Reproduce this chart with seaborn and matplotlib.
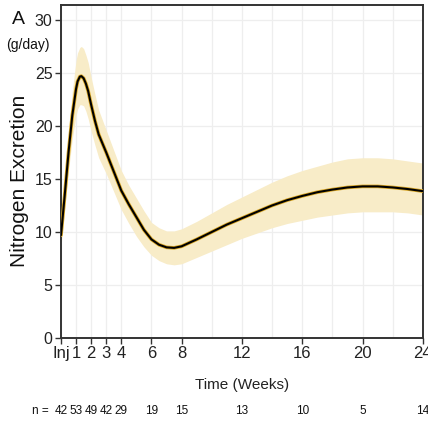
import matplotlib
matplotlib.use("Agg")
import matplotlib.pyplot as plt
import seaborn as sns
import pandas as pd

# ---- data ----
weeks = [0, 0.25, 0.5, 0.75, 1.0, 1.1, 1.25, 1.35, 1.5, 1.65, 1.8, 2.0, 2.25, 2.5, 3.0, 3.5,
         4.0, 4.5, 5.0, 5.5, 6.0, 6.5, 7.0, 7.5, 8.0, 9, 10, 11, 12, 13, 14, 15, 16, 17,
         18, 19, 20, 21, 22, 23, 24]
excretion = [9.7, 13.5, 17.5, 21.0, 23.5, 24.2, 24.65, 24.7, 24.5, 24.0, 23.3, 22.0, 20.5,
             19.2, 17.5, 15.7, 13.9, 12.6, 11.4, 10.2, 9.3, 8.8, 8.55, 8.5, 8.65, 9.3,
             10.0, 10.7, 11.3, 11.9, 12.5, 13.0, 13.4, 13.75, 14.0, 14.2, 14.3, 14.3,
             14.2, 14.05, 13.85]
lower = [8.6, 12.3, 15.8, 18.8, 21.0, 21.6, 22.0, 22.0, 21.9, 21.4, 20.7, 19.5, 18.2,
         17.0, 15.5, 13.8, 12.1, 10.8, 9.6, 8.6, 7.8, 7.3, 7.0, 6.9, 7.0, 7.6, 8.2, 8.8,
         9.4, 9.9, 10.4, 10.8, 11.1, 11.4, 11.6, 11.8, 11.9, 11.9, 11.9, 11.8, 11.6]
upper = [10.6, 14.8, 19.3, 23.3, 26.2, 26.9, 27.4, 27.5, 27.3, 26.7, 26.0, 24.6, 23.0,
         21.5, 19.6, 17.7, 15.8, 14.4, 13.2, 12.0, 10.9, 10.4, 10.1, 10.1, 10.3, 11.0,
         11.8, 12.6, 13.3, 14.0, 14.7, 15.3, 15.8, 16.2, 16.6, 16.9, 17.0, 17.0, 16.9,
         16.7, 16.5]

tick_weeks = [0, 1, 2, 3, 4, 6, 8, 12, 16, 20, 24]
tick_labels = ["Inj", "1", "2", "3", "4", "6", "8", "12", "16", "20", "24"]
minor_weeks = [10, 14, 18, 22]
y_ticks = [0, 5, 10, 15, 20, 25, 30]
n_counts = [42, 53, 49, 42, 29, 19, 15, 13, 10, 5, 14]

df = pd.DataFrame({"week": weeks, "value": excretion, "lo": lower, "hi": upper})

sns.set_theme(style="white")
plt.rcParams["font.family"] = ["Liberation Sans", "DejaVu Sans"]

fig = plt.figure(figsize=(4.28, 4.25), dpi=100)
ax = fig.add_axes([0.1425, 0.2047, 0.8455, 0.7833])

ax.fill_between(df["week"], df["lo"], df["hi"], color="#F8ECC8", linewidth=0, zorder=2)
sns.lineplot(data=df, x="week", y="value", ax=ax, color="#D9A521", linewidth=2.6, zorder=3)
sns.lineplot(data=df, x="week", y="value", ax=ax, color="black", linewidth=1.5, zorder=4)

ax.set_xlim(0, 24)
ax.set_ylim(0, 31.4)
ax.set_xticks(tick_weeks)
ax.set_xticklabels(tick_labels)
ax.set_xticks(minor_weeks, minor=True)
ax.set_yticks(y_ticks)

ax.grid(True, which="both", axis="x", color="#EEEEEE", linewidth=0.9, zorder=0)
ax.grid(True, which="major", axis="y", color="#EEEEEE", linewidth=0.9, zorder=0)
ax.set_axisbelow(True)

for s in ax.spines.values():
    s.set_visible(True)
    s.set_color("#333333")
    s.set_linewidth(1.4)

ax.tick_params(axis="both", which="major", direction="out", length=4, width=1,
               color="#333333", labelcolor="#222222", pad=2)
ax.tick_params(axis="x", which="major", labelsize=12)
ax.tick_params(axis="y", which="major", labelsize=11.5)
ax.tick_params(axis="x", which="minor", length=0)
ax.tick_params(axis="y", left=True)
ax.tick_params(axis="x", bottom=True)

ax.set_xlabel("Time (Weeks)", fontsize=11, color="#222222", labelpad=12)
ax.set_ylabel("Nitrogen Excretion", fontsize=15, color="#111111")
ax.yaxis.set_label_coords(-0.088, 0.471)

fig.text(18 / 428, 1 - 20 / 425, "A", fontsize=14, ha="center", va="center", color="#111111")
fig.text(28 / 428, 1 - 45 / 425, "(g/day)", fontsize=10, ha="center", va="center", color="#111111")

# sample sizes below the axis
nfam = ["Liberation Sans", "DejaVu Sans"]
trans = matplotlib.transforms.blended_transform_factory(ax.transData, fig.transFigure)
fig.text(40 / 428, 1 - 411 / 425, "n =", fontsize=8.5, ha="center", va="center",
         family=nfam, color="#111111")
for w, n in zip(tick_weeks, n_counts):
    ax.text(w, 1 - 411 / 425, str(n), transform=trans, fontsize=8.5, ha="center",
            va="center", family=nfam, color="#111111", clip_on=False)

fig.savefig("out.png", dpi=100, facecolor="white")
